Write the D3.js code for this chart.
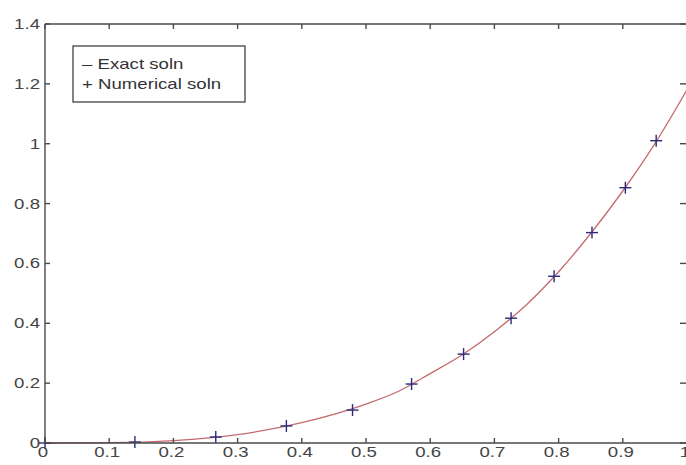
<!DOCTYPE html>
<meta charset="utf-8">
<style>
body {
  margin: 0;
  background: #fff;
  font-family: "Liberation Sans", Arial, Helvetica, sans-serif;
}
svg { display: block; overflow: hidden; }
.tick-label {
  font-size: 14px;
  fill: #444;
}
.frame line {
  stroke: #4a4a4a;
  stroke-width: 1.4;
}
</style>
<body>
<script src="https://cdn.jsdelivr.net/npm/d3@7"></script>
<script>

var width = 686,
    height = 465;

// exact solution
var exactX = [0, 0.1, 0.2, 0.3, 0.4, 0.5, 0.55, 0.6, 0.65, 0.7, 0.75, 0.8, 0.85, 0.9, 0.95, 1.0];
var exactY = [0, 0.001, 0.008, 0.028, 0.068, 0.13, 0.172, 0.232, 0.295, 0.372, 0.462, 0.572, 0.7, 0.842, 1.0, 1.18];

// numerical solution (+ markers)
var numX = [0, 0.14, 0.266, 0.376, 0.479, 0.571, 0.652, 0.726, 0.793, 0.852, 0.904, 0.952];
var numY = [0, 0.003, 0.02, 0.057, 0.11, 0.197, 0.297, 0.417, 0.557, 0.703, 0.853, 1.01];

var xTicks = [0, 0.1, 0.2, 0.3, 0.4, 0.5, 0.6, 0.7, 0.8, 0.9, 1];
var yTicks = [0, 0.2, 0.4, 0.6, 0.8, 1, 1.2, 1.4];

var legendLabels = ["\u2013 Exact soln", "+ Numerical soln"];

var pLeft = 45, pRight = 687, pTop = 24, pBottom = 443;
var stretch = 1.33; // the picture's text is wider than it is tall

var x = d3.scaleLinear().domain([0, 1]).range([pLeft, pRight]);
var y = d3.scaleLinear().domain([0, 1.4]).range([pBottom, pTop]);

var svg = d3.select("body").append("svg")
    .attr("width", width)
    .attr("height", height);

// exact curve
var exact = exactX.map(function(d, i) { return [d, exactY[i]]; });
var line = d3.line()
    .x(function(d) { return x(d[0]); })
    .y(function(d) { return y(d[1]); })
    .curve(d3.curveMonotoneX);

svg.append("path")
    .datum(exact)
    .attr("d", line)
    .attr("fill", "none")
    .attr("stroke", "#c46a6e")
    .attr("stroke-width", 1.3);

// numerical markers
var pts = numX.map(function(d, i) { return [d, numY[i]]; });
var plus = svg.append("g").selectAll("g")
    .data(pts)
  .enter().append("g")
    .attr("transform", function(d) { return "translate(" + x(d[0]) + "," + y(d[1]) + ")"; })
    .attr("stroke", "#2b2b7a")
    .attr("stroke-width", 1.4);
plus.append("line").attr("x1", -6).attr("x2", 6);
plus.append("line").attr("y1", -6).attr("y2", 6);

// frame
var frame = svg.append("g").attr("class", "frame");
frame.append("line").attr("x1", pLeft).attr("x2", pRight).attr("y1", pBottom).attr("y2", pBottom);
frame.append("line").attr("x1", pLeft).attr("x2", pRight).attr("y1", pTop).attr("y2", pTop);
frame.append("line").attr("x1", pLeft).attr("x2", pLeft).attr("y1", pTop).attr("y2", pBottom);
frame.append("line").attr("x1", pRight).attr("x2", pRight).attr("y1", pTop).attr("y2", pBottom);

// inner ticks
xTicks.forEach(function(t) {
  frame.append("line").attr("x1", x(t)).attr("x2", x(t)).attr("y1", pBottom).attr("y2", pBottom - 5);
  frame.append("line").attr("x1", x(t)).attr("x2", x(t)).attr("y1", pTop).attr("y2", pTop + 5);
});
yTicks.forEach(function(t) {
  frame.append("line").attr("x1", pLeft).attr("x2", pLeft + 5).attr("y1", y(t)).attr("y2", y(t));
  frame.append("line").attr("x1", pRight).attr("x2", pRight - 7).attr("y1", y(t)).attr("y2", y(t));
});

// tick labels
svg.append("g").selectAll("text")
    .data(xTicks)
  .enter().append("text")
    .attr("class", "tick-label")
    .attr("transform", function(d) { return "translate(" + (x(d) - 2) + "," + (pBottom + 14) + ")scale(" + stretch + ",1)"; })
    .attr("text-anchor", "middle")
    .text(function(d) { return d; });

svg.append("g").selectAll("text")
    .data(yTicks)
  .enter().append("text")
    .attr("class", "tick-label")
    .attr("transform", function(d) { return "translate(" + (pLeft - 5) + "," + (y(d) + 5) + ")scale(" + stretch + ",1)"; })
    .attr("text-anchor", "end")
    .text(function(d) { return d; });

// legend
var lg = svg.append("g").attr("transform", "translate(73,46)");
lg.append("rect")
    .attr("width", 172)
    .attr("height", 56)
    .attr("fill", "#fff")
    .attr("stroke", "#333")
    .attr("stroke-width", 1.2);
lg.selectAll("text")
    .data(legendLabels)
  .enter().append("text")
    .attr("transform", function(d, i) { return "translate(9," + (23 + i * 20) + ")scale(" + stretch + ",1)"; })
    .attr("font-size", 14)
    .attr("fill", "#333")
    .text(function(d) { return d; });

</script>
